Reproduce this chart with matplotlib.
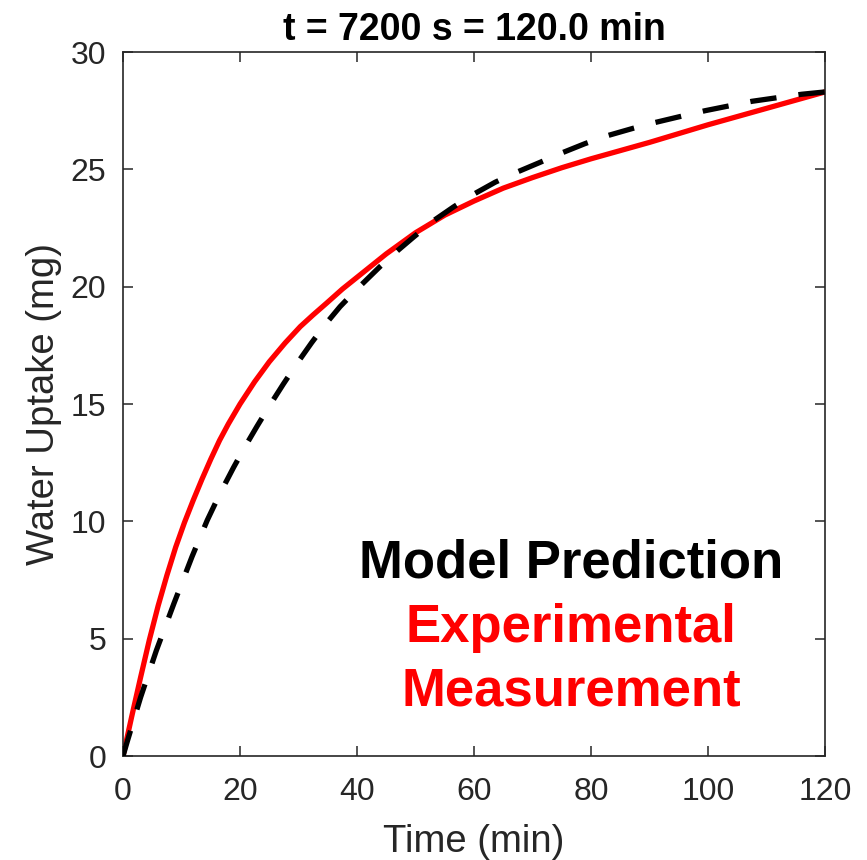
import matplotlib
matplotlib.use('Agg')
import matplotlib.pyplot as plt
import numpy as np

plt.rcParams['font.family'] = ['Liberation Sans', 'DejaVu Sans']

t_exp = [0, 1.5, 3, 4.5, 6, 7.5, 9, 10.5, 12, 13.5, 15, 16.5, 18, 20,
         22.5, 25, 27.7, 30.3, 32.5, 34.8, 37.5, 40, 42.5, 45, 47.5, 50,
         55, 60, 65, 70, 75, 80, 90, 100, 110, 120]
w_exp = [0, 1.7, 3.35, 4.95, 6.4, 7.7, 8.9, 9.95, 10.9, 11.8, 12.65, 13.45,
         14.15, 15.0, 15.95, 16.8, 17.6, 18.3, 18.8, 19.3, 19.9, 20.4, 20.9,
         21.4, 21.85, 22.3, 23.05, 23.65, 24.2, 24.65, 25.07, 25.45, 26.15,
         26.9, 27.6, 28.3]

# model prediction (black, dashed)
t_mod = [0, 0.7, 3, 5.7, 8.7, 11.8, 14.4, 16.6, 18.9, 20.9, 22.9, 25.1,
         27.4, 29.8, 32.2, 34.6, 37.1, 40, 43.9, 47, 49.6, 53, 56.5, 60,
         63.6, 67.5, 71.3, 75, 79, 83, 87.2, 91, 95.2, 99.5, 103.5, 107.5,
         111.7, 116, 120]
w_mod = [0, 0.6, 2.5, 4.5, 6.5, 8.5, 10.05, 11.2, 12.3, 13.2, 14.05, 14.95,
         15.85, 16.75, 17.6, 18.4, 19.15, 19.9, 20.85, 21.55, 22.1, 22.8,
         23.4, 23.95, 24.45, 24.9, 25.3, 25.7, 26.1, 26.45, 26.75, 27.0,
         27.25, 27.5, 27.7, 27.9, 28.05, 28.2, 28.3]

xticks = [0, 20, 40, 60, 80, 100, 120]
yticks = [0, 5, 10, 15, 20, 25, 30]

gray = '#262626'

fig = plt.figure(figsize=(8.67, 8.6), dpi=100)
ax = fig.add_axes([0.1419, 0.1209, 0.8097, 0.8186])

ax.plot(t_exp, w_exp, color='red', lw=3.8, solid_capstyle='round',
        solid_joinstyle='round', zorder=2)
ax.plot(t_mod, w_mod, color='black', lw=3.8, linestyle=(0, (5, 4.2)), zorder=3)

ax.set_xlim(0, 120)
ax.set_ylim(0, 30)
ax.set_xticks(xticks)
ax.set_yticks(yticks)
ax.tick_params(direction='in', length=7, width=1.1, colors=gray,
               labelsize=23, top=True, right=True)
ax.tick_params(axis='x', pad=15)
ax.tick_params(axis='y', pad=12)
for sp in ax.spines.values():
    sp.set_color(gray)
    sp.set_linewidth(1.2)

ax.set_xlabel('Time (min)', fontsize=27.5, color=gray, labelpad=12)
ax.set_ylabel('Water Uptake (mg)', fontsize=27.5, color=gray, labelpad=6)
ax.set_title('t = 7200 s = 120.0 min', fontsize=27, fontweight='bold', pad=9)

# annotation text in place of a legend
ax.text(0.638, 0.253, 'Model Prediction', transform=ax.transAxes, ha='center',
        va='baseline', fontsize=38, fontweight='bold', color='black')
ax.text(0.638, 0.162, 'Experimental', transform=ax.transAxes, ha='center',
        va='baseline', fontsize=38, fontweight='bold', color='red')
ax.text(0.638, 0.072, 'Measurement', transform=ax.transAxes, ha='center',
        va='baseline', fontsize=38, fontweight='bold', color='red')

fig.savefig('out.png', dpi=100)
